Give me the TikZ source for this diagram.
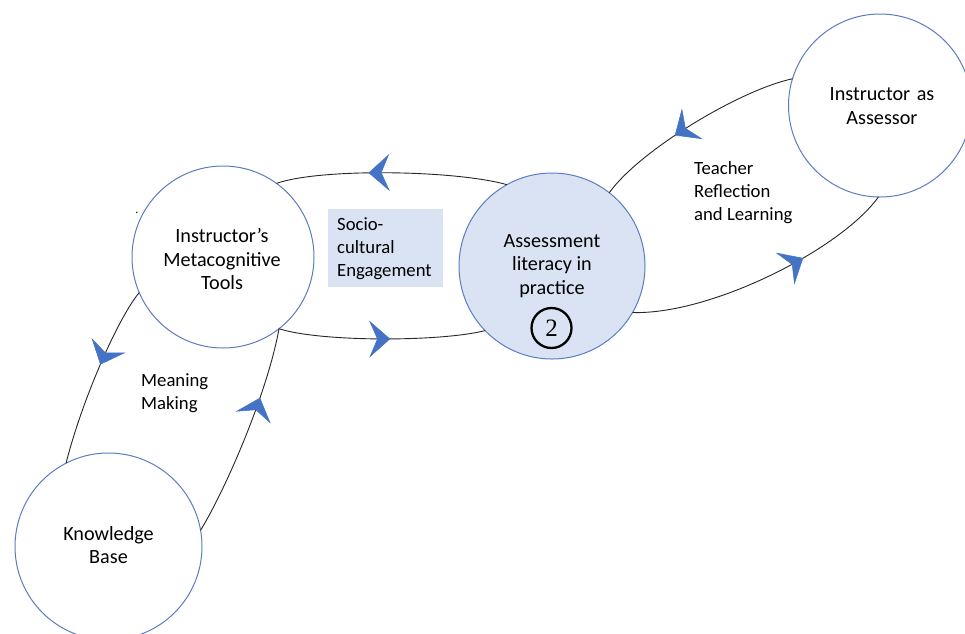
\documentclass[tikz,border=0pt]{standalone}
\usepackage{fontspec}
\setmainfont{Carlito}
\newfontfamily\twofont{Liberation Serif}
\usetikzlibrary{arrows.meta,decorations.markings}
\definecolor{cborder}{HTML}{5B7DC0}
\definecolor{lightblue}{HTML}{DAE3F3}
\definecolor{arrowblue}{HTML}{4472C4}
\tikzset{
  circ/.style={circle, draw=cborder, line width=1pt, inner sep=0pt, outer sep=0pt},
  txt/.style={align=center, inner sep=0pt, font=\fontsize{20.2}{23.5}\selectfont},
  lbl/.style={align=left, inner sep=0pt, font=\fontsize{18.7}{23}\selectfont},
  flow/.style={draw=black!85, line width=0.9pt, postaction={decorate},
    decoration={markings, mark=at position #1 with {\arrow[arrowblue]{Stealth[length=21pt,width=37pt,inset=8pt,line width=0.5pt]}}}}
}
\begin{document}
\begin{tikzpicture}[x=1pt,y=-1pt]
\useasboundingbox (0,0) rectangle (965,633);
% circles
\node[circ, minimum size=187pt] (kb) at (108.5,546.5) {};
\node[circ, minimum size=182pt] (imt) at (223,257) {};
\node[circ, fill=lightblue, minimum size=186pt] (alp) at (552,266) {};
\node[circ, minimum size=183pt] (iaa) at (880,105.5) {};
% texts in circles
\node[txt] (kbt) at (108.5,545) {Knowledge\\Base};
\node[txt] (imtt) at (222,259) {Instructor’s\\Metacognitive\\Tools};
\node[txt] (alpt) at (552,266) {Assessment\\literacy in\\practice};
\node[txt] (iaat) at (882,106) {Instructor\hspace{6.5pt}as\\Assessor};
% numbered circle
\node[circle, draw=black, line width=2.3pt, minimum size=40pt, inner sep=0pt, font=\twofont\fontsize{25}{25}\selectfont] (two) at (551.5,328) {2};
% socio-cultural box
\node[fill=lightblue, minimum width=115pt, minimum height=78pt, inner sep=0pt] (sce) at (385.5,248) {};
\node[lbl, anchor=west] (scet) at (337,249) {Socio-\\cultural\\Engagement};
% labels
\node[lbl, anchor=west] (mm) at (141,393) {Meaning\\Making};
\node[lbl, anchor=west] (trl) at (694,193) {Teacher\\Reflection\\and Learning};
\node[inner sep=0pt, font=\fontsize{12}{12}\selectfont] (dot) at (137,213) {.};
% connectors
\draw[flow=0.6] (alp.119) .. controls (455,170) and (320,168) .. (imt.54.6);
\draw[flow=0.54] (imt.-52.2) .. controls (320,342) and (440,342) .. (alp.-136.3);
\draw[flow=0.6] (iaa.163) .. controls (740,90) and (640,150) .. (alp.52.5);
\draw[flow=0.65] (alp.-30.4) .. controls (710,315) and (840,250) .. (iaa.-91.2);
\draw[flow=0.44] (imt.-157.9) .. controls (118,318) and (82,400) .. (kb.117.2);
\draw[flow=0.67] (kb.10) .. controls (228,485) and (268,390) .. (imt.-52.2);
\end{tikzpicture}
\end{document}
